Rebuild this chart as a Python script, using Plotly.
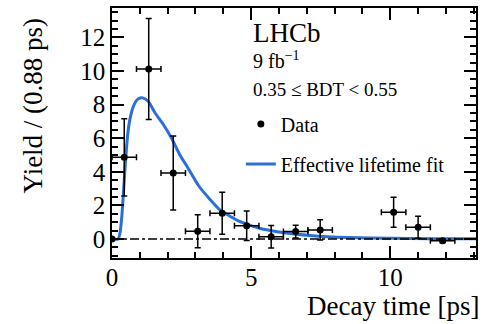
import plotly.graph_objects as go

# Data points (bin centres, yields, errors)
t_data = [0.44, 1.32, 2.20, 3.08, 3.96, 4.84, 5.72, 6.60, 7.48, 10.12, 11.00, 11.88]
y_data = [4.86, 10.12, 3.93, 0.46, 1.53, 0.79, 0.14, 0.44, 0.54, 1.59, 0.70, -0.10]
y_err = [2.30, 3.00, 2.20, 0.98, 1.25, 0.88, 0.67, 0.38, 0.60, 0.89, 0.65, 0.10]
x_err = [0.44] * len(t_data)

# Lone point at origin (no error bars)
t_zero = [0.0]
y_zero = [0.0]

# Fit curve
t_fit = [0.0, 0.22, 0.30, 0.36, 0.42, 0.48, 0.54, 0.60, 0.68, 0.77, 0.86, 0.95, 1.10, 1.30, 1.55,
         1.85, 2.14, 2.44, 2.74, 3.10, 3.50, 3.90, 4.30, 4.60, 5.30, 6.00, 7.20, 8.50, 10.0,
         11.5, 13.1]
y_fit = [0.0, 0.0, 0.5, 1.5, 3.0, 4.5, 5.8, 6.7, 7.4, 7.9, 8.2, 8.35, 8.4, 8.2, 7.5,
         6.8, 6.0, 5.0, 4.2, 3.2, 2.4, 1.7, 1.3, 1.03, 0.64, 0.42, 0.20, 0.09, 0.04,
         0.02, 0.01]

FONT = "Liberation Serif, Times New Roman, serif"
BLUE = "#2b6fd8"

fig = go.Figure()

fig.add_trace(go.Scatter(
    x=t_fit, y=y_fit, mode="lines",
    line=dict(color=BLUE, width=3, shape="spline", smoothing=0.6),
    name="Effective lifetime fit", legendgroup="b", legendrank=2))

fig.add_trace(go.Scatter(
    x=t_data, y=y_data, mode="markers",
    marker=dict(color="black", size=7),
    error_y=dict(type="data", array=y_err, color="black", thickness=1.5, width=3),
    error_x=dict(type="data", array=x_err, color="black", thickness=1.5, width=3),
    name="Data", legendgroup="a", legendrank=1))

fig.add_trace(go.Scatter(
    x=t_zero, y=y_zero, mode="markers", marker=dict(color="black", size=7),
    showlegend=False))

# dashed zero line
fig.add_hline(y=0, line=dict(color="black", width=1.3, dash="dashdot"))

axis_common = dict(
    showgrid=False, zeroline=False, showline=True, linecolor="black", linewidth=1.5,
    mirror="ticks", ticks="inside", tickcolor="black", tickwidth=1.5,
    tickfont=dict(family=FONT, size=25, color="black"),
)

fig.update_xaxes(range=[0, 13.08], dtick=5, tick0=0, ticklen=12, ticklabelstandoff=-4,
                 minor=dict(dtick=1, ticklen=6, ticks="inside", tickcolor="black", tickwidth=1.5),
                 **axis_common)
fig.update_yaxes(range=[-1.13, 13.75], dtick=2, tick0=0, ticklen=12,
                 minor=dict(dtick=0.5, ticklen=6, ticks="inside", tickcolor="black", tickwidth=1.5),
                 **axis_common)

annotations = [
    dict(text="Yield / (0.88 ps)", x=-0.216, y=0.972, xref="paper", yref="paper",
         xanchor="center", yanchor="top", textangle=-90, showarrow=False,
         font=dict(family=FONT, size=27, color="black")),
    dict(text="Decay time [ps]", x=1.015, y=-0.19, xref="paper", yref="paper",
         xanchor="right", yanchor="middle", showarrow=False,
         font=dict(family=FONT, size=27, color="black")),
    dict(text="LHCb", x=0.383, y=0.90, xref="paper", yref="paper",
         xanchor="left", yanchor="middle", showarrow=False,
         font=dict(family=FONT, size=27, color="black")),
    dict(text="9 fb<sup>−1</sup>", x=0.383, y=0.79, xref="paper", yref="paper",
         xanchor="left", yanchor="middle", showarrow=False,
         font=dict(family=FONT, size=20, color="black")),
    dict(text="0.35 ≤ BDT < 0.55", x=0.383, y=0.672, xref="paper", yref="paper",
         xanchor="left", yanchor="middle", showarrow=False,
         font=dict(family=FONT, size=19, color="black")),
]

fig.update_layout(
    width=483, height=324,
    margin=dict(l=112, r=5, t=8, b=66),
    paper_bgcolor="white", plot_bgcolor="white",
    annotations=annotations,
    showlegend=True,
    legend=dict(x=0.354, y=0.614, xanchor="left", yanchor="top",
                bgcolor="rgba(0,0,0,0)", borderwidth=0,
                font=dict(family=FONT, size=20, color="black"),
                traceorder="grouped", tracegroupgap=11, itemwidth=30),
)

fig.write_html("out.html")
